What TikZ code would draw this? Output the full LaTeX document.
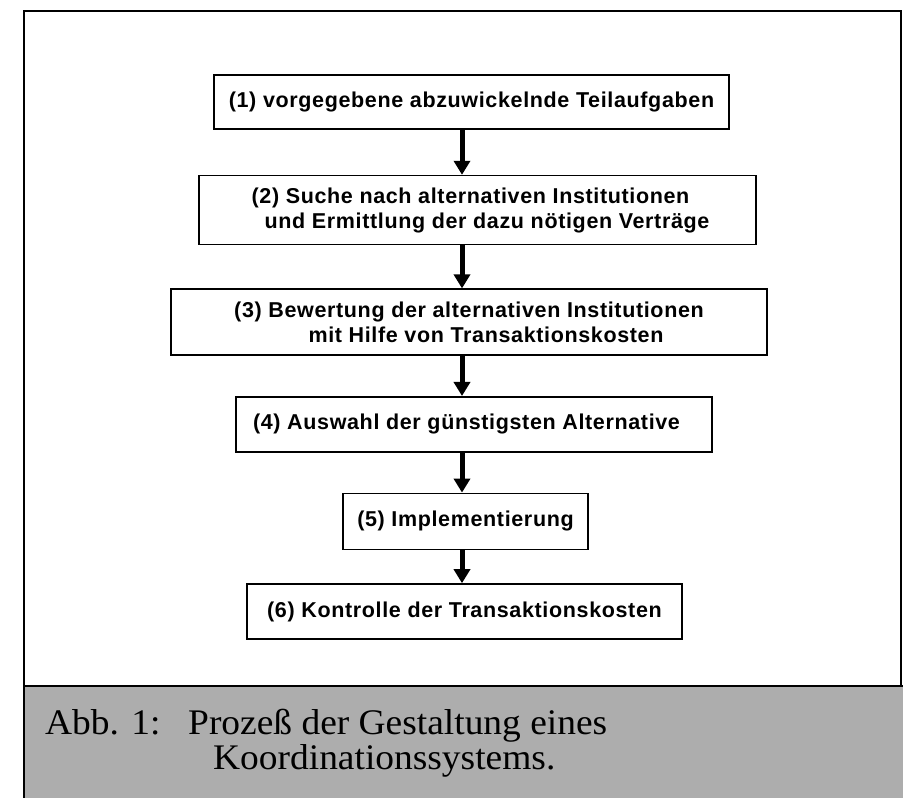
\documentclass[tikz,border=0pt]{standalone}
\usepackage{fontspec}
\usepackage{tikz}
\usetikzlibrary{positioning}
\usetikzlibrary{arrows.meta}
\newfontfamily\boxfont[LetterSpace=3]{Liberation Sans}
\newfontfamily\capfont[FakeStretch=1.04]{Liberation Serif}

\begin{document}
\begin{tikzpicture}[x=1pt, y=1pt,
    stepbox/.style = {draw, line width=1.6pt, inner sep=0pt, align=center,
        font=\boxfont\bfseries\fontsize{21.5}{25}\selectfont},
    flow/.style = {line width=5pt, -{Triangle[width=16pt,length=14pt]}},
    captext/.style = {anchor=base west, inner sep=0pt,
        font=\capfont\fontsize{36}{38}\selectfont}]
    \useasboundingbox (0,0) rectangle (903,798);
    % frame and caption band
    \fill[black!32] (24,0) rectangle (903,112);
    \draw[line width=2pt] (24,0) -- (24,787) -- (901,787) -- (901,112);
    \draw[line width=2pt] (24,112) -- (903,112);
    \node[captext] (abb) at (45,63) {Abb. 1:};
    \node[captext] (cap1) at (188,63) {Prozeß der Gestaltung eines};
    \node[captext] (cap2) at (213,28) {Koordinationssystems.};
    % the six steps
    \node[stepbox, minimum width=515pt, minimum height=54pt] (b1) at (471.5,696)
        {(1) vorgegebene abzuwickelnde Teilaufgaben};
    \node[stepbox, minimum width=557pt, minimum height=69pt, below=45pt of b1, xshift=6pt] (b2)
        {(2) Suche nach alternativen Institutionen\hspace*{14pt}\\
        \hspace*{19pt}und Ermittlung der dazu nötigen Verträge};
    \node[stepbox, minimum width=596pt, minimum height=66pt, below=43pt of b2, xshift=-8.5pt] (b3)
        {(3) Bewertung der alternativen Institutionen\\
        \hspace*{34pt}mit Hilfe von Transaktionskosten};
    \node[stepbox, minimum width=476pt, minimum height=55pt, below=40pt of b3, xshift=5pt] (b4)
        {(4) Auswahl der günstigsten Alternative\hspace*{15pt}};
    \node[stepbox, minimum width=245pt, minimum height=56pt, below=40pt of b4, xshift=-8.5pt] (b5)
        {(5) Implementierung};
    \node[stepbox, minimum width=435pt, minimum height=55pt, below=33pt of b5, xshift=-1pt] (b6)
        {(6) Kontrolle der Transaktionskosten};
    \coordinate (sp) at (462,0);
    \draw[flow] (b1.south -| sp) -- (b2.north -| sp);
    \draw[flow] (b2.south -| sp) -- (b3.north -| sp);
    \draw[flow] (b3.south -| sp) -- (b4.north -| sp);
    \draw[flow] (b4.south -| sp) -- (b5.north -| sp);
    \draw[flow] (b5.south -| sp) -- (b6.north -| sp);
\end{tikzpicture}
\end{document}
